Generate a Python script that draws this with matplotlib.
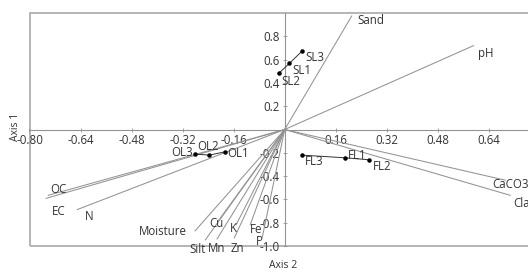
import matplotlib
matplotlib.use("Agg")
import matplotlib.pyplot as plt
from matplotlib.patches import Rectangle

plt.rcParams["font.family"] = ["Open Sans", "DejaVu Sans"]

# biplot vectors (variable loadings)
vec_names = ["Sand", "pH", "CaCO3", "Clay", "OC", "EC", "N", "Moisture",
             "Silt", "Mn", "Zn", "Cu", "K", "Fe", "P"]
vec_x = [0.21, 0.592, 0.691, 0.707, -0.741, -0.748, -0.650, -0.281,
         -0.249, -0.212, -0.158, -0.208, -0.152, -0.108, -0.070]
vec_y = [0.974, 0.72, -0.435, -0.565, -0.565, -0.591, -0.687, -0.870,
         -0.948, -0.939, -0.930, -0.783, -0.817, -0.817, -0.922]

# sample scores, three groups
sl_names = ["SL2", "SL1", "SL3"]
sl_x = [-0.019, 0.015, 0.054]
sl_y = [0.481, 0.568, 0.672]

ol_names = ["OL3", "OL2", "OL1"]
ol_x = [-0.281, -0.236, -0.187]
ol_y = [-0.211, -0.220, -0.191]

fl_names = ["FL3", "FL1", "FL2"]
fl_x = [0.054, 0.190, 0.265]
fl_y = [-0.220, -0.243, -0.260]

xticks = [-0.80, -0.64, -0.48, -0.32, -0.16, 0.16, 0.32, 0.48, 0.64]
yticks = [-1.0, -0.8, -0.6, -0.4, -0.2, 0.2, 0.4, 0.6, 0.8]

# label placement (pixel offset from end point, alignment)
vec_lab = {"Sand": (6, -4, "left"), "pH": (4, -8, "left"),
           "CaCO3": (-13, -4, "left"), "Clay": (3, -8, "left"),
           "OC": (2, 6, "left"), "EC": (6, -13, "left"), "N": (8, -7, "left"),
           "Moisture": (-8, -1, "right"), "Silt": (0, -10, "right"),
           "Mn": (0, -10, "center"), "Zn": (-4, -11, "left"),
           "Cu": (-2, -3, "center"), "K": (-3, -4, "center"),
           "Fe": (0, -5, "left"), "P": (-3, -5, "center")}
pt_lab = {"SL2": (3, -8, "left"), "SL1": (3, -7, "left"), "SL3": (3, -6, "left"),
          "OL3": (-2, 2, "right"), "OL2": (-12, 9, "left"), "OL1": (2, -2, "left"),
          "FL3": (3, -6, "left"), "FL1": (3, 2, "left"), "FL2": (4, -7, "left")}

LINE = "#939393"
TXT = "#333333"
FS = 8.3

fig = plt.figure(figsize=(5.28, 2.70), dpi=100)
ax = fig.add_axes([29.5 / 528, 24 / 270, 510.4 / 528, 233 / 270])
ax.set_xlim(-0.80, 0.80)
ax.set_ylim(-1.0, 1.0)

for s in ["top", "right"]:
    ax.spines[s].set_visible(False)
ax.spines["left"].set_position(("data", 0))
ax.spines["bottom"].set_position(("data", 0))
for s in ["left", "bottom"]:
    ax.spines[s].set_color(LINE)
    ax.spines[s].set_linewidth(0.8)
ax.add_patch(Rectangle((0, 0), 1, 1, transform=ax.transAxes, fill=False,
                       ec="#a8a8a8", lw=1.2, clip_on=False, zorder=0))

ax.set_xticks(xticks)
ax.set_xticklabels([f"{v:.2f}" for v in xticks])
ax.set_yticks(yticks)
ax.set_yticklabels([f"{v:.1f}" for v in yticks])
ax.tick_params(axis="both", direction="inout", length=3, width=0.6, color=LINE,
               labelsize=FS, labelcolor=TXT, pad=2)

# vectors
for n, x, y in zip(vec_names, vec_x, vec_y):
    ax.plot([0, x], [0, y], color=LINE, lw=0.75, zorder=2)
    dx, dy, ha = vec_lab[n]
    ax.annotate(n, (x, y), xytext=(dx, dy), textcoords="offset pixels",
                ha=ha, va="center", fontsize=FS, color=TXT, zorder=4)

# groups
for names, xs, ys in [(sl_names, sl_x, sl_y), (ol_names, ol_x, ol_y),
                      (fl_names, fl_x, fl_y)]:
    ax.plot(xs, ys, color="#333333", lw=0.7, zorder=3)
    ax.scatter(xs, ys, s=5, color="black", zorder=4)
    for n, x, y in zip(names, xs, ys):
        dx, dy, ha = pt_lab[n]
        ax.annotate(n, (x, y), xytext=(dx, dy), textcoords="offset pixels",
                    ha=ha, va="center", fontsize=FS, color=TXT, zorder=4)

fig.text(283 / 528, 1 - 265 / 270, "Axis 2", ha="center", va="center",
         fontsize=7.5, color=TXT)
fig.text(15 / 528, 1 - 127 / 270, "Axis 1", ha="center", va="center",
         rotation=90, fontsize=7.5, color=TXT)

fig.savefig("out.png", dpi=100, facecolor="white")
